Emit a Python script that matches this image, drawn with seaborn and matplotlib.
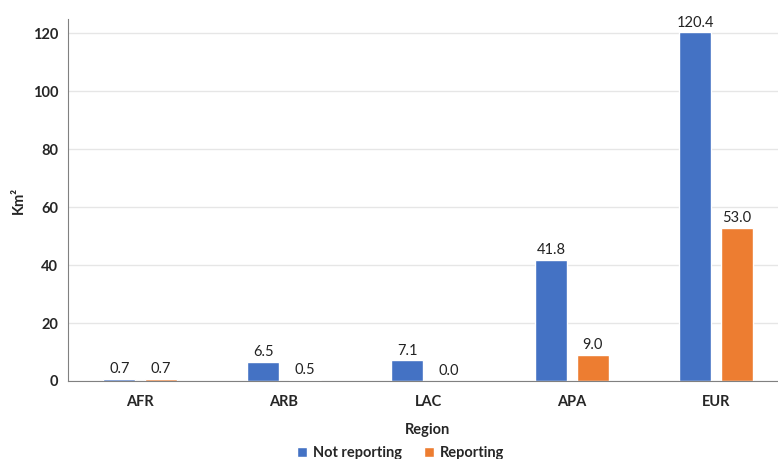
import matplotlib
matplotlib.use("Agg")
import matplotlib.pyplot as plt
import seaborn as sns
import pandas as pd

regions = ["AFR", "ARB", "LAC", "APA", "EUR"]
not_reporting = [0.7, 6.5, 7.1, 41.8, 120.4]
reporting = [0.7, 0.5, 0.0, 9.0, 53.0]
series = ["Not reporting", "Reporting"]
colors = ["#4472C4", "#ED7D31"]

df = pd.DataFrame({
    "Region": regions * 2,
    "Value": not_reporting + reporting,
    "Series": [series[0]] * len(regions) + [series[1]] * len(regions),
})

sns.set_style("white")
plt.rcParams['font.family'] = ['Lato', 'DejaVu Sans']

fig = plt.figure(figsize=(7.78, 4.59), dpi=100)
ax = fig.add_axes([68/778, 1 - 381/459, 720/778, (381-19)/459])

sns.barplot(data=df, x="Region", y="Value", hue="Series", palette=colors,
            width=0.57, gap=0.22, saturation=1, ax=ax, legend=True)

for cont in ax.containers:
    ax.bar_label(cont, fmt="%.1f", padding=2, fontsize=10.5, color="#222222")

ax.set_ylim(0, 125)
ax.set_yticks(range(0, 121, 20))
ax.yaxis.grid(True, color="#E6E6E6", linewidth=1)
ax.set_axisbelow(True)
for s in ["top", "right"]:
    ax.spines[s].set_visible(False)
ax.spines["left"].set_color("#808080")
ax.spines["bottom"].set_color("#808080")
ax.tick_params(axis="y", length=4, color="#808080", labelsize=10.5, pad=3)
ax.tick_params(axis="x", length=0, labelsize=10.5, pad=10)
for lbl in ax.get_xticklabels() + ax.get_yticklabels():
    lbl.set_fontweight("bold")
ax.set_xlabel("Region", fontsize=10.5, fontweight="bold", labelpad=10)
ax.set_ylabel("Km²", fontsize=10.5, fontweight="bold", labelpad=5)

leg = ax.legend(loc="lower center", bbox_to_anchor=(0.462, -0.255), ncol=2,
                frameon=False, handlelength=0.7, handleheight=0.7,
                columnspacing=1.5, handletextpad=0.4,
                prop={"weight": "bold", "size": 10.5})

fig.savefig("out.png", dpi=100)
